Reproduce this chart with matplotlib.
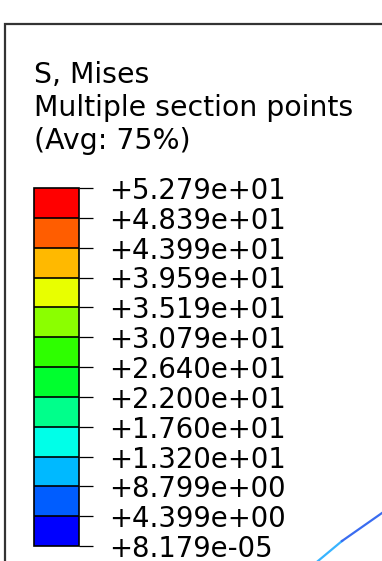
import numpy as np
import matplotlib
matplotlib.use('Agg')
import matplotlib.pyplot as plt
from matplotlib.colors import ListedColormap, BoundaryNorm
from matplotlib.cm import ScalarMappable

# legend data (Abaqus contour legend)
title_lines = ['S, Mises', 'Multiple section points', '(Avg: 75%)']
levels = [8.179e-05, 4.399e+00, 8.799e+00, 1.320e+01, 1.760e+01, 2.200e+01,
          2.640e+01, 3.079e+01, 3.519e+01, 3.959e+01, 4.399e+01, 4.839e+01,
          5.279e+01]
tick_labels = ['+8.179e-05', '+4.399e+00', '+8.799e+00', '+1.320e+01',
               '+1.760e+01', '+2.200e+01', '+2.640e+01', '+3.079e+01',
               '+3.519e+01', '+3.959e+01', '+4.399e+01', '+4.839e+01',
               '+5.279e+01']
band_colors = ['#0000FF', '#005DFF', '#00B9FF', '#00FFE8', '#00FF8B', '#00FF2E',
               '#2EFF00', '#8BFF00', '#E8FF00', '#FFB900', '#FF5D00', '#FF0000']

# piece of the model edge visible in the corner (pixel coords)
arc_x = [318, 330, 342, 352, 362, 372, 382]
arc_y = [561, 551, 541, 534, 527, 520, 513]

W, H = 382, 561
fig = plt.figure(figsize=(W / 100, H / 100), dpi=100)
fig.patch.set_facecolor('white')

ax = fig.add_axes([0, 0, 1, 1])
ax.set_xlim(0, W)
ax.set_ylim(H, 0)
ax.axis('off')

# viewport border
ax.plot([4.5, 4.5, W + 5], [H + 5, 24, 24], color='#333333', lw=1.6,
        solid_joinstyle='miter')

# model edge
ax.plot(arc_x[:3], arc_y[:3], color='#38B4FF', lw=1.6)
ax.plot(arc_x[2:], arc_y[2:], color='#3A6CF0', lw=1.6)

fs = 19.8
for i, line in enumerate(title_lines):
    ax.text(34, 75 + i * 33, line, fontsize=fs + 0.6, va='center', ha='left',
            family='DejaVu Sans', color='black')

# colour bar
cax = fig.add_axes([34 / W, (H - 546) / H, 45 / W, 358 / H])
cmap = ListedColormap(band_colors)
norm = BoundaryNorm(levels, cmap.N)
sm = ScalarMappable(norm=norm, cmap=cmap)
cb = fig.colorbar(sm, cax=cax, ticks=levels, drawedges=True, spacing='uniform')
cb.outline.set_edgecolor('black')
cb.outline.set_linewidth(1.2)
cb.dividers.set_color('black')
cb.dividers.set_linewidth(1.2)
cb.set_ticklabels(tick_labels)
cax.tick_params(axis='y', length=10, width=0.9, pad=12, labelsize=fs,
                direction='out', colors='black')

fig.savefig('out.png', dpi=100)
